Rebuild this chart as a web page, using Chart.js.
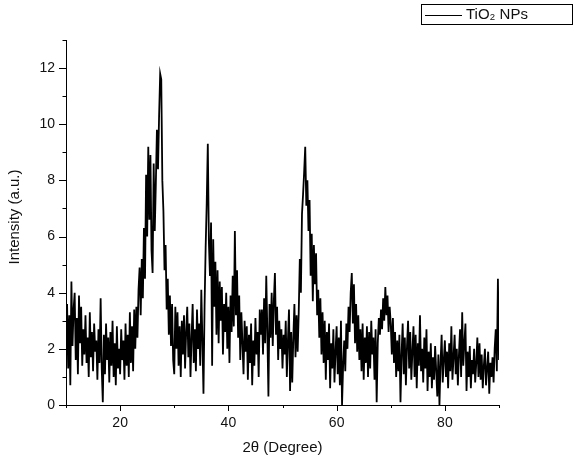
<!DOCTYPE html>
<html>
<head>
<meta charset="utf-8">
<script src="https://cdn.jsdelivr.net/npm/chart.js@4/dist/chart.umd.min.js"></script>
<style>
html,body{margin:0;padding:0;background:#fff;}
#wrap{width:575px;height:463px;position:relative;}
</style>
</head>
<body>
<div id="wrap"><canvas id="c" width="575" height="463"></canvas></div>
<script>
// ---- data ----
const seriesLabel = 'TiO\u2082 NPs';
const xAxisTitle = '2\u03B8 (Degree)';
const yAxisTitle = 'Intensity (a.u.)';
const angleStart = 10;     // 2θ of first sample
const angleStep = 0.2;     // sampling step in degrees
const intensity = [
  2.8, 3.6, 1.3, 3.2, 0.7, 4.4, 2.1, 3.4, 4.0, 1.6,
  3.1, 1.1, 3.9, 2.2, 3.5, 1.4, 2.7, 1.8, 3.2, 1.5,
  2.4, 1.0, 3.3, 1.7, 2.6, 1.2, 2.9, 1.9, 2.3, 0.9,
  2.7, 1.5, 3.8, 1.3, 0.1, 2.5, 1.1, 2.9, 1.6, 2.4,
  0.8, 2.6, 1.4, 3.0, 1.0, 2.2, 0.7, 2.8, 1.3, 2.0,
  1.1, 2.7, 1.6, 2.3, 0.9, 2.9, 1.4, 2.5, 1.0, 3.3,
  1.5, 2.8, 1.2, 3.4, 2.0, 3.5, 2.4, 4.1, 4.9, 3.2,
  5.2, 3.8, 6.3, 4.5, 8.2, 6.0, 9.2, 6.6, 8.9, 5.5,
  4.7, 8.6, 6.2, 7.9, 9.8, 8.4, 10.3, 11.8, 11.6, 8.0,
  6.9, 4.8, 5.7, 3.4, 4.5, 2.5, 3.9, 2.1, 3.6, 1.6,
  1.1, 3.5, 2.0, 3.3, 1.4, 2.8, 1.0, 3.0, 1.8, 3.2,
  1.3, 2.6, 3.5, 1.7, 2.9, 1.0, 2.4, 3.6, 1.5, 2.7,
  1.2, 3.4, 2.0, 2.9, 1.4, 4.1, 2.3, 0.4, 3.5, 5.6,
  7.2, 9.3, 5.8, 4.6, 6.5, 1.4, 5.9, 3.5, 5.1, 2.5,
  4.8, 2.2, 4.4, 3.0, 4.2, 1.8, 3.6, 2.6, 4.0, 2.0,
  3.5, 1.5, 3.9, 2.6, 4.6, 2.8, 6.2, 3.2, 4.8, 2.4,
  3.9, 1.6, 3.3, 2.2, 1.1, 3.0, 1.9, 2.8, 0.9, 2.5,
  1.5, 2.9, 0.7, 2.3, 1.4, 3.1, 1.8, 2.6, 1.0, 3.4,
  2.5, 3.4, 1.8, 3.8, 2.2, 4.6, 2.6, 0.3, 3.6, 2.4,
  4.0, 2.1, 3.7, 4.7, 2.5, 3.5, 1.6, 3.0, 2.0, 2.7,
  1.3, 2.5, 1.8, 3.0, 1.0, 2.3, 3.4, 0.5, 2.6, 0.8,
  2.4, 3.6, 1.7, 3.2, 1.9, 3.3, 5.2, 4.0, 6.8, 7.5,
  8.3, 9.2, 7.1, 8.0, 6.2, 7.3, 4.6, 6.1, 3.7, 5.7,
  4.3, 5.4, 3.2, 4.1, 2.4, 3.8, 1.8, 3.3, 1.5, 3.0,
  0.9, 2.6, 1.6, 2.9, 0.6, 2.2, 1.3, 2.7, 0.8, 1.9,
  2.8, 1.1, 2.4, 0.7, 3.0, 0.0, 1.4, 2.3, 1.2, 2.9,
  2.0, 3.5, 2.6, 4.0, 4.7, 2.9, 4.3, 2.2, 3.6, 1.9,
  3.2, 1.6, 2.7, 1.2, 2.9, 0.9, 2.4, 1.5, 2.8, 1.0,
  2.6, 1.3, 3.0, 1.8, 2.4, 0.9, 2.7, 0.1, 2.2, 3.1,
  2.5, 3.4, 2.7, 3.8, 3.0, 4.2, 3.2, 3.9, 2.6, 3.5,
  2.9, 1.8, 3.1, 1.5, 2.6, 1.0, 2.3, 1.2, 2.5, 0.1,
  1.8, 2.9, 1.1, 2.4, 0.7, 2.1, 3.0, 1.3, 2.6, 0.9,
  1.9, 2.8, 1.0, 2.5, 0.6, 2.2, 1.4, 3.2, 1.2, 2.0,
  0.8, 2.4, 1.3, 2.7, 0.5, 1.9, 1.0, 2.2, 0.6, 1.7,
  0.9, 2.1, 1.2, 0.3, 1.8, 0.0, 1.5, 2.5, 0.8, 1.6,
  2.3, 1.0, 1.9, 0.6, 2.2, 1.2, 2.8, 0.9, 1.7, 2.5,
  1.1, 2.0, 0.7, 1.8, 2.7, 1.0, 3.3, 1.4, 2.2, 2.9,
  0.5, 1.9, 1.0, 2.1, 0.6, 1.6, 1.1, 2.0, 0.8, 1.5,
  2.4, 1.0, 2.2, 0.9, 1.8, 0.6, 1.4, 2.0, 0.7, 1.3,
  1.9, 0.4, 1.5, 1.0, 1.7, 0.8, 2.0, 2.7, 1.2, 4.5,
  1.6
];
const xTickValues = [10, 20, 30, 40, 50, 60, 70, 80, 90];
const xTickLabels = [20, 40, 60, 80];
const yTickValues = [0, 1, 2, 3, 4, 5, 6, 7, 8, 9, 10, 11, 12, 13];
const yTickLabels = [0, 2, 4, 6, 8, 10, 12];
const xRange = [10, 90];
const yRange = [0, 13];

// ---- build ----
const points = intensity.map((v, i) => ({ x: +(angleStart + i * angleStep).toFixed(1), y: v }));
const FONT = '"Liberation Sans", Arial, sans-serif';

const decorPlugin = {
  id: 'decor',
  afterDraw(chart) {
    const { ctx, scales: { x, y } } = chart;
    ctx.save();
    ctx.strokeStyle = '#000';
    ctx.lineWidth = 1;
    // x ticks
    xTickValues.forEach(v => {
      const px = Math.round(x.getPixelForValue(v)) + 0.5;
      const len = xTickLabels.includes(v) ? 6 : 3;
      ctx.beginPath();
      ctx.moveTo(px, y.bottom);
      ctx.lineTo(px, y.bottom + len);
      ctx.stroke();
    });
    // y ticks
    yTickValues.forEach(v => {
      const py = Math.round(y.getPixelForValue(v)) + 0.5;
      const len = yTickLabels.includes(v) ? 7 : 3.5;
      ctx.beginPath();
      ctx.moveTo(x.left, py);
      ctx.lineTo(x.left - len, py);
      ctx.stroke();
    });
    // axis titles
    ctx.fillStyle = '#111';
    ctx.font = '15px ' + FONT;
    ctx.textAlign = 'center';
    ctx.textBaseline = 'middle';
    ctx.fillText(xAxisTitle, (x.left + x.right) / 2 + 0, 448);
    ctx.save();
    ctx.translate(15, 217);
    ctx.rotate(-Math.PI / 2);
    ctx.fillText(yAxisTitle, 0, 0);
    ctx.restore();
    // legend box
    ctx.strokeStyle = '#000';
    ctx.lineWidth = 1;
    ctx.strokeRect(421.5, 4.5, 151, 20);
    ctx.beginPath();
    ctx.moveTo(425, 15.5);
    ctx.lineTo(462, 15.5);
    ctx.stroke();
    ctx.fillStyle = '#111';
    ctx.font = '15px ' + FONT;
    ctx.textAlign = 'left';
    ctx.fillText(seriesLabel, 466, 15);
    ctx.restore();
  }
};

new Chart(document.getElementById('c'), {
  type: 'line',
  data: {
    datasets: [{
      label: seriesLabel,
      data: points,
      borderColor: '#000',
      borderWidth: 1.8,
      pointRadius: 0,
      tension: 0,
      fill: false
    }]
  },
  options: {
    responsive: false,
    animation: false,
    devicePixelRatio: 1,
    layout: { padding: { left: 0, top: 40, right: 76, bottom: 0 } },
    plugins: { legend: { display: false }, tooltip: { enabled: false } },
    scales: {
      x: {
        type: 'linear',
        min: xRange[0], max: xRange[1],
        afterFit(s) { s.height = 58; },
        grid: { display: false, drawTicks: false },
        border: { display: true, color: '#000', width: 1 },
        afterBuildTicks(s) { s.ticks = xTickValues.map(v => ({ value: v })); },
        ticks: {
          padding: 10,
          maxRotation: 0,
          autoSkip: false,
          color: '#111',
          font: { family: FONT, size: 14 },
          callback: v => xTickLabels.includes(v) ? String(v) : ''
        }
      },
      y: {
        type: 'linear',
        min: yRange[0], max: yRange[1],
        afterFit(s) { s.width = 66; },
        grid: { display: false, drawTicks: false },
        border: { display: true, color: '#000', width: 1 },
        afterBuildTicks(s) { s.ticks = yTickValues.map(v => ({ value: v })); },
        ticks: {
          padding: 11,
          autoSkip: false,
          color: '#111',
          font: { family: FONT, size: 14 },
          callback: v => yTickLabels.includes(v) ? String(v) : ''
        }
      }
    }
  },
  plugins: [decorPlugin]
});
</script>
</body>
</html>
